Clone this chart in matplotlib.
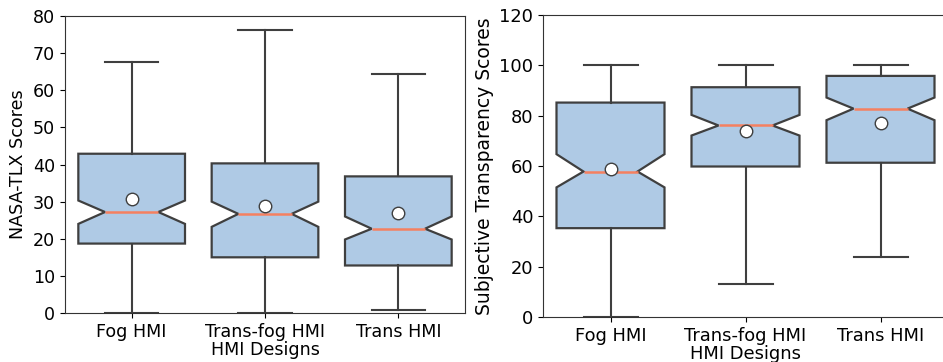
import matplotlib
matplotlib.use('Agg')
import matplotlib.pyplot as plt

# 类别
designs = ['Fog HMI', 'Trans-fog HMI', 'Trans HMI']

# NASA-TLX 箱线图统计量
tlx_whislo = [0.0, 0.0, 0.9]
tlx_q1 = [18.7, 15.0, 12.8]
tlx_cilo = [24.0, 23.2, 19.8]
tlx_med = [27.2, 26.7, 22.7]
tlx_cihi = [30.3, 30.0, 26.0]
tlx_q3 = [42.9, 40.3, 36.8]
tlx_whishi = [67.7, 76.2, 64.5]
tlx_mean = [30.7, 28.8, 26.9]

# 主观透明度 箱线图统计量
st_whislo = [0.0, 13.3, 23.8]
st_q1 = [35.3, 59.8, 61.3]
st_cilo = [51.5, 72.1, 78.2]
st_med = [57.8, 76.1, 82.8]
st_cihi = [64.7, 80.3, 87.2]
st_q3 = [85.2, 91.3, 95.8]
st_whishi = [100.0, 100.0, 100.0]
st_mean = [58.7, 74.1, 77.0]

BOX_COLOR = '#afcae5'
LINE_COLOR = '#3f3f3f'
MED_COLOR = '#f58060'


def make_stats(whislo, q1, cilo, med, cihi, q3, whishi, mean):
    stats = []
    for i in range(len(designs)):
        stats.append({
            'label': designs[i],
            'whislo': whislo[i], 'q1': q1[i], 'cilo': cilo[i],
            'med': med[i], 'cihi': cihi[i], 'q3': q3[i],
            'whishi': whishi[i], 'mean': mean[i], 'fliers': [],
        })
    return stats


def draw(ax, stats, fs):
    line = dict(color=LINE_COLOR, linewidth=1.5)
    ax.bxp(stats, positions=range(len(stats)), widths=0.8, shownotches=True,
           showmeans=True, patch_artist=True,
           boxprops=dict(facecolor=BOX_COLOR, edgecolor=LINE_COLOR, linewidth=1.6),
           whiskerprops=line, capprops=line,
           medianprops=dict(color=MED_COLOR, linewidth=1.8),
           meanprops=dict(marker='o', markerfacecolor='white',
                          markeredgecolor=LINE_COLOR, markersize=9))
    ax.set_xlim(-0.5, len(stats) - 0.5)
    ax.set_xticks(range(len(stats)))
    ax.set_xticklabels(designs, fontsize=fs)
    ax.tick_params(axis='y', labelsize=fs)
    ax.set_xlabel('HMI Designs', fontsize=fs, labelpad=0)
    for sp in ax.spines.values():
        sp.set_color('#333333')


fig = plt.figure(figsize=(9.43, 3.62), dpi=100)
W, H = 943, 362
ax1 = fig.add_axes([65 / W, 1 - 313 / H, 400 / W, 297 / H])
ax2 = fig.add_axes([543 / W, 1 - 317 / H, 405 / W, 302 / H])

draw(ax1, make_stats(tlx_whislo, tlx_q1, tlx_cilo, tlx_med, tlx_cihi, tlx_q3, tlx_whishi, tlx_mean), 12.6)
ax1.set_ylim(0, 80)
ax1.set_ylabel('NASA-TLX Scores', fontsize=12.6)

draw(ax2, make_stats(st_whislo, st_q1, st_cilo, st_med, st_cihi, st_q3, st_whishi, st_mean), 12.9)
ax2.set_ylim(0, 120)
ax2.set_ylabel('Subjective Transparency Scores', fontsize=13.5)

fig.savefig('out.png', dpi=100)
